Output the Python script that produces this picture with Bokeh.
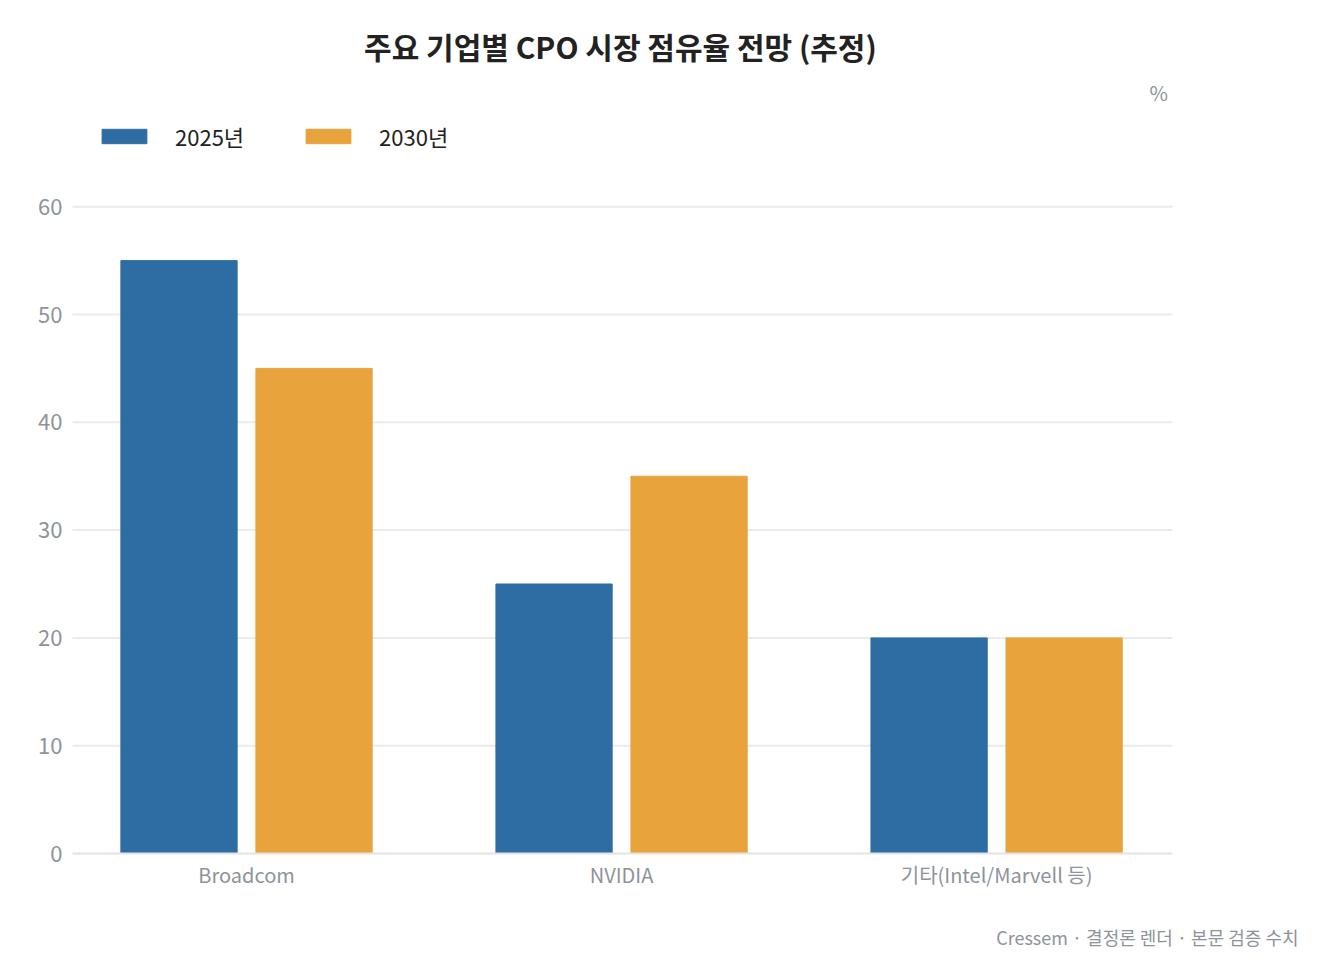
from bokeh.plotting import figure
from bokeh.models import Legend, LegendItem, Range1d
from bokeh.core.properties import value
from bokeh.embed import file_html
from bokeh.resources import INLINE

companies = ["Broadcom", "NVIDIA", "기타(Intel/Marvell 등)"]
share_2025 = [55, 25, 20]
share_2030 = [45, 35, 20]
years = ["2025년", "2030년"]
y_ticks = [0, 10, 20, 30, 40, 50, 60]

FONT = "Noto Sans CJK KR"
BLUE = "#2e6da4"
ORANGE = "#e8a33d"
GRAY = "#8e939a"

xs = list(range(len(companies)))

# one frame over the whole canvas; axes drawn by hand so outside texts are not clipped
p = figure(width=1319, height=967, output_backend="svg", toolbar_location=None,
           x_range=Range1d(-0.656, 2.861), y_range=Range1d(-10.575, 79.13),
           min_border=0)
p.outline_line_color = None
p.axis.visible = False
p.grid.visible = False

x_left, x_right = -0.464, 2.469

# grid lines
p.segment(x0=[x_left] * (len(y_ticks) - 1), x1=[x_right] * (len(y_ticks) - 1),
          y0=y_ticks[1:], y1=y_ticks[1:], line_color="#ebebeb", line_width=2)

r1 = p.vbar(x=[x - 0.18 for x in xs], top=share_2025, width=0.31, color=BLUE)
r2 = p.vbar(x=[x + 0.18 for x in xs], top=share_2030, width=0.31, color=ORANGE)

# baseline
p.segment(x0=[x_left], x1=[x_right], y0=[0], y1=[0], line_color="#e3e3e3", line_width=2)

# y tick labels
p.text(x=[-0.491] * len(y_ticks), y=y_ticks, text=[str(t) for t in y_ticks],
       text_align="right", text_baseline="middle", text_font=value(FONT),
       text_font_size="22px", text_color=GRAY)

# category labels
p.text(x=xs, y=[-1.95] * len(xs), text=companies, text_align="center",
       text_baseline="middle", text_font=value(FONT), text_font_size="20px",
       text_color=GRAY)

p.text(x=[0.997], y=[74.9], text=["주요 기업별 CPO 시장 점유율 전망 (추정)"],
       text_align="center", text_baseline="middle", text_font=value(FONT),
       text_font_size="30px", text_font_style="bold", text_color="#222222")
p.text(x=[2.432], y=[70.6], text=["%"], text_align="center", text_baseline="middle",
       text_font=value(FONT), text_font_size="20px", text_color=GRAY)
p.text(x=[2.805], y=[-7.7], text=["Cressem · 결정론 렌더 · 본문 검증 수치"],
       text_align="right", text_baseline="middle", text_font=value(FONT),
       text_font_size="18px", text_color=GRAY)

legend = Legend(items=[LegendItem(label=years[0], renderers=[r1]),
                       LegendItem(label=years[1], renderers=[r2])],
                location=(96, 815), orientation="horizontal", padding=0, margin=0,
                glyph_width=56, glyph_height=18, label_standoff=23, spacing=56,
                label_text_font=FONT, label_text_font_size="22px",
                label_text_color="#222222", border_line_color=None,
                background_fill_alpha=0)
p.add_layout(legend)

open("out.html", "w").write(file_html(p, INLINE))
